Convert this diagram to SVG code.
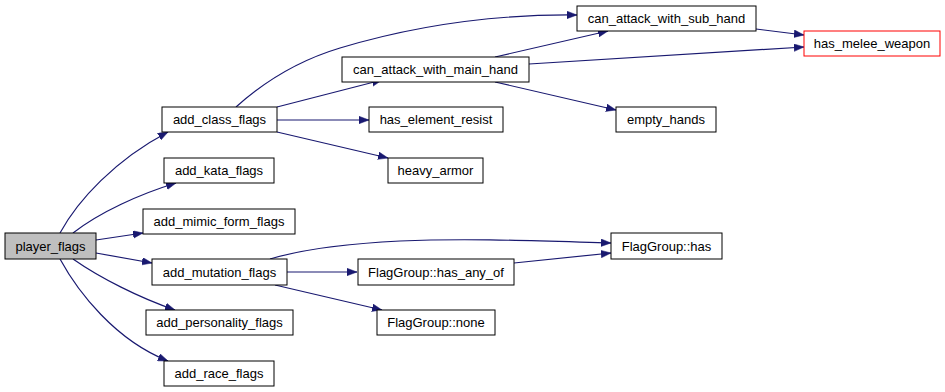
<svg xmlns="http://www.w3.org/2000/svg" width="945" height="392" viewBox="0 0 945 392">
  <style>
    .node rect { fill: #ffffff; stroke: #000000; stroke-width: 1; }
    .node.root rect { fill: #bfbfbf; }
    .node.trunc rect { stroke: #ff0000; }
    .node text { font-family: "Liberation Sans", Arial, sans-serif; font-size: 13px; fill: #000000; text-anchor: middle; }
    .edge { fill: none; stroke: #191970; stroke-width: 1.2; marker-end: url(#arrow); }
  </style>
  <defs>
    <marker id="arrow" markerUnits="userSpaceOnUse" markerWidth="11" markerHeight="8" refX="10" refY="3.75" orient="auto">
      <path d="M0,0 L10,3.75 L0,7.5 Z" fill="#191970" stroke="#191970" stroke-width="0.5"/>
    </marker>
  </defs>
  <rect width="945" height="392" fill="#ffffff"/>

  <g id="edges">
    <!-- player_flags calls -->
    <path class="edge" d="M60,233 C78,200 115,160 168,132"/>
    <path class="edge" d="M73,233 C100,212 140,194 176,183"/>
    <path class="edge" d="M96,240 L143,233"/>
    <path class="edge" d="M96,253 L152,263"/>
    <path class="edge" d="M73,259 C100,278 140,298 175,310"/>
    <path class="edge" d="M60,259 C78,292 115,340 168,361"/>
    <!-- add_class_flags calls -->
    <path class="edge" d="M236,107 C266,80 300,60 340,48 C400,30 480,14 577,15"/>
    <path class="edge" d="M277,107 L382,80"/>
    <path class="edge" d="M277,120 L369,120"/>
    <path class="edge" d="M277,132 L388,158"/>
    <!-- can_attack_with_main_hand calls -->
    <path class="edge" d="M495,57 L608,31"/>
    <path class="edge" d="M529,64 L804,47"/>
    <path class="edge" d="M495,82 L616,110"/>
    <!-- can_attack_with_sub_hand calls -->
    <path class="edge" d="M756,29 L804,35"/>
    <!-- add_mutation_flags calls -->
    <path class="edge" d="M270,259 C300,250 340,244 400,241 C470,238 540,241 611,243"/>
    <path class="edge" d="M287,272 L357,272"/>
    <path class="edge" d="M275,285 L382,310"/>
    <!-- FlagGroup::has_any_of calls -->
    <path class="edge" d="M514,263 L611,253"/>
  </g>

  <g id="player_flags" class="node root">
    <rect x="5" y="233" width="91" height="26"/>
    <text x="50.5" y="250.5">player_flags</text>
  </g>
  <g id="add_class_flags" class="node">
    <rect x="162" y="107" width="115" height="25"/>
    <text x="219.5" y="124">add_class_flags</text>
  </g>
  <g id="add_kata_flags" class="node">
    <rect x="164" y="158" width="110" height="25"/>
    <text x="219" y="175">add_kata_flags</text>
  </g>
  <g id="add_mimic_form_flags" class="node">
    <rect x="143" y="209" width="152" height="25"/>
    <text x="219" y="226">add_mimic_form_flags</text>
  </g>
  <g id="add_mutation_flags" class="node">
    <rect x="152" y="259" width="135" height="26"/>
    <text x="219.5" y="276.5">add_mutation_flags</text>
  </g>
  <g id="add_personality_flags" class="node">
    <rect x="146" y="310" width="147" height="25"/>
    <text x="219.5" y="327">add_personality_flags</text>
  </g>
  <g id="add_race_flags" class="node">
    <rect x="164" y="361" width="110" height="25"/>
    <text x="219" y="378">add_race_flags</text>
  </g>
  <g id="can_attack_with_main_hand" class="node">
    <rect x="342" y="57" width="187" height="25"/>
    <text x="435.5" y="74">can_attack_with_main_hand</text>
  </g>
  <g id="has_element_resist" class="node">
    <rect x="369" y="107" width="134" height="25"/>
    <text x="436" y="124">has_element_resist</text>
  </g>
  <g id="heavy_armor" class="node">
    <rect x="388" y="158" width="95" height="25"/>
    <text x="435.5" y="175">heavy_armor</text>
  </g>
  <g id="can_attack_with_sub_hand" class="node">
    <rect x="577" y="6" width="179" height="25"/>
    <text x="666.5" y="23">can_attack_with_sub_hand</text>
  </g>
  <g id="empty_hands" class="node">
    <rect x="616" y="107" width="100" height="25"/>
    <text x="666" y="124">empty_hands</text>
  </g>
  <g id="has_melee_weapon" class="node trunc">
    <rect x="804" y="31" width="136" height="25"/>
    <text x="872" y="48">has_melee_weapon</text>
  </g>
  <g id="FlagGroup_has" class="node">
    <rect x="611" y="233" width="111" height="26"/>
    <text x="666.5" y="250.5">FlagGroup::has</text>
  </g>
  <g id="FlagGroup_has_any_of" class="node">
    <rect x="358" y="259" width="156" height="26"/>
    <text x="436" y="276.5">FlagGroup::has_any_of</text>
  </g>
  <g id="FlagGroup_none" class="node">
    <rect x="377" y="310" width="118" height="25"/>
    <text x="436" y="327">FlagGroup::none</text>
  </g>
</svg>
